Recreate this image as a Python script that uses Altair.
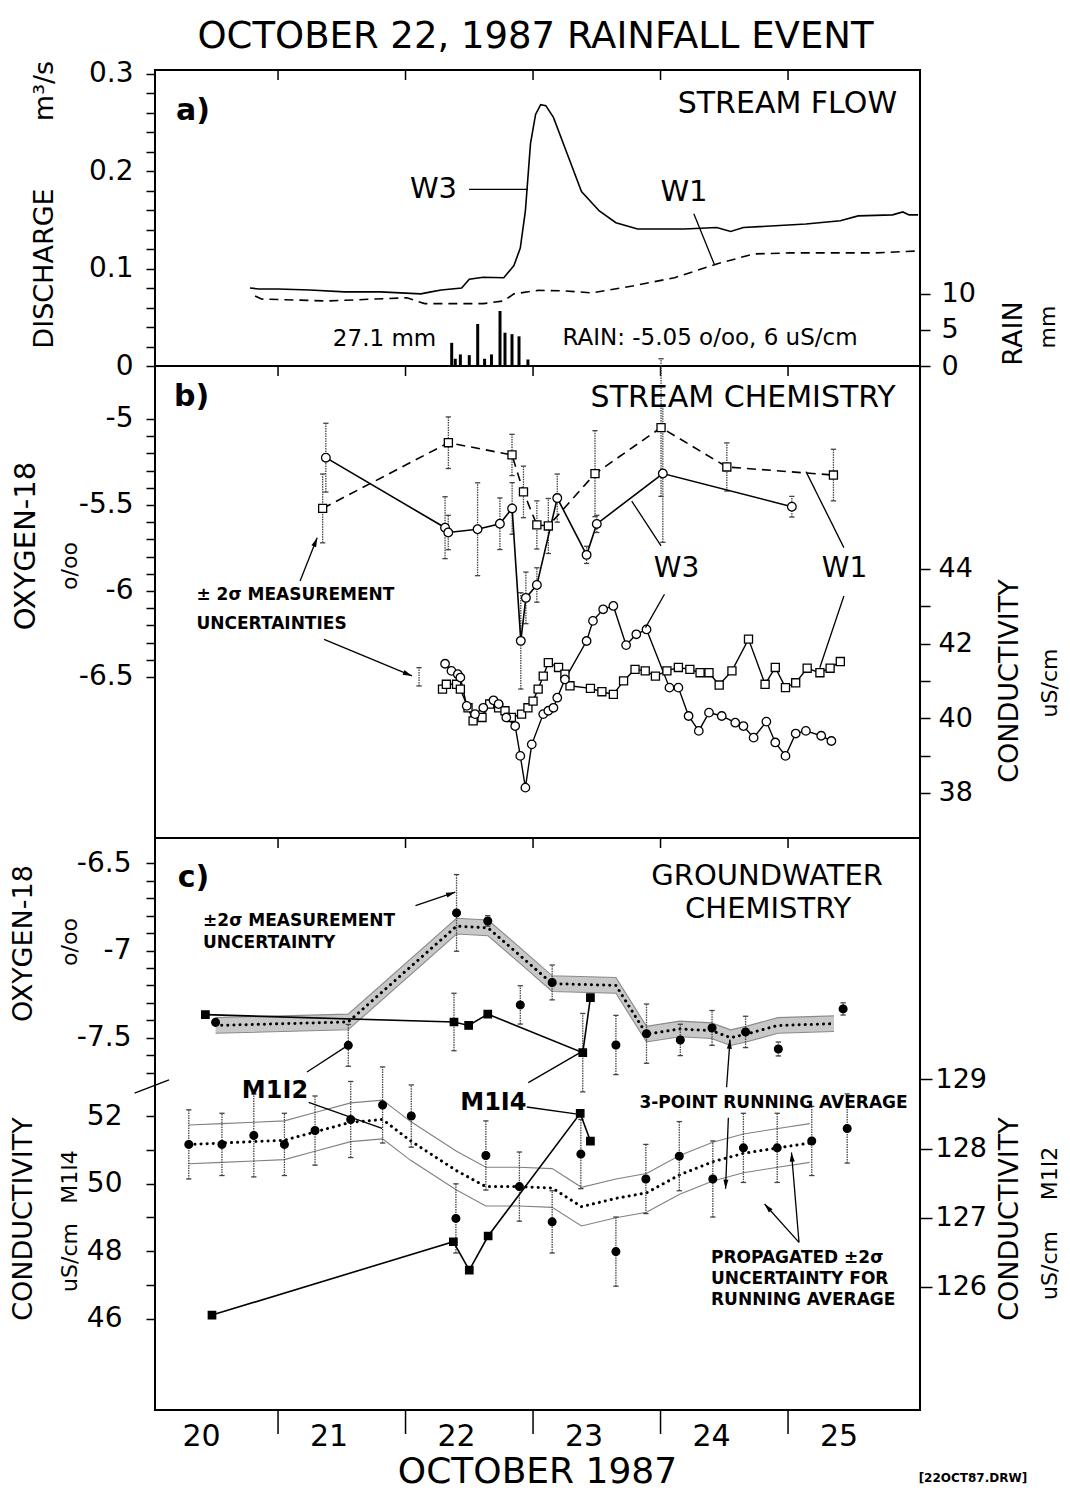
import math
import altair as alt
import pandas as pd

FONT = "DejaVu Sans"
W = 765
HA, HB, HC = 296, 472, 572
XDOM = [20.035, 26.035]
PX_DAY = W / (XDOM[1] - XDOM[0])

# ---------------- panel a : stream flow ----------------
w3_q_day = [20.78, 20.85, 21.0, 21.25, 21.52, 21.8, 22.12, 22.2, 22.28, 22.44, 22.5, 22.61, 22.77,
            22.85, 22.9, 22.94, 22.98, 23.02, 23.06, 23.1, 23.16, 23.27, 23.38, 23.52, 23.65, 23.82,
            24.19, 24.44, 24.55, 24.65, 25.14, 25.41, 25.55, 25.82, 25.9, 25.95, 26.02]
w3_q_val = [0.080, 0.079, 0.079, 0.078, 0.076, 0.076, 0.074, 0.076, 0.078, 0.080, 0.089, 0.091, 0.0905,
            0.103, 0.121, 0.159, 0.228, 0.258, 0.268, 0.267, 0.255, 0.217, 0.179, 0.159, 0.147, 0.1405,
            0.1405, 0.142, 0.138, 0.142, 0.1456, 0.149, 0.154, 0.155, 0.158, 0.155, 0.155]
w1_q_day = [20.82, 20.87, 21.39, 22.01, 22.15, 22.61, 22.77, 22.85, 23.04, 23.25, 23.46, 23.78,
            24.11, 24.44, 24.73, 25.01, 25.41, 25.68, 26.02]
w1_q_val = [0.0718, 0.0687, 0.0667, 0.070, 0.064, 0.064, 0.0667, 0.074, 0.0776, 0.077, 0.075, 0.082,
            0.0906, 0.1046, 0.1149, 0.116, 0.116, 0.116, 0.118]
rain_day = [22.362, 22.39, 22.43, 22.50, 22.566, 22.62, 22.674, 22.741, 22.78, 22.835, 22.89, 22.96]
rain_mm = [3.2, 1.0, 1.6, 1.5, 5.8, 1.0, 1.6, 7.6, 4.6, 4.4, 4.1, 0.9]
QDOM = [0, 0.3036]
RDOM = [0, 40.9]

# ---------------- panel b : stream chemistry ----------------
w3_o_day = [21.375, 22.31, 22.335, 22.565, 22.74, 22.836, 22.904, 22.944, 23.03, 23.19, 23.42, 23.50, 24.018, 25.03]
w3_o_val = [-5.225, -5.632, -5.66, -5.641, -5.609, -5.52, -6.29, -6.04, -5.965, -5.46, -5.79, -5.61, -5.317, -5.51]
w3_o_err = [0.2, 0.18, 0.1, 0.27, 0.15, 0.15, 0.28, 0.15, 0.1, 0.14, 0.05, 0.05, 0.4, 0.06]
w1_o_day = [21.35, 22.336, 22.835, 22.925, 23.03, 23.12, 23.486, 24.004, 24.52, 25.356]
w1_o_val = [-5.52, -5.138, -5.209, -5.424, -5.616, -5.622, -5.318, -5.05, -5.279, -5.326]
w1_o_err = [0.2, 0.15, 0.12, 0.15, 0.14, 0.16, 0.25, 0.4, 0.14, 0.15]
w3_c_day = [22.31, 22.36, 22.41, 22.43, 22.48, 22.545, 22.61, 22.69, 22.73, 22.79, 22.86, 22.90, 22.94, 22.99,
            23.08, 23.12, 23.16, 23.19, 23.25, 23.42, 23.47, 23.55, 23.63, 23.73, 23.81, 23.89, 24.07, 24.14,
            24.22, 24.30, 24.38, 24.48, 24.586, 24.65, 24.73, 24.83, 24.90, 24.98, 25.06, 25.14, 25.26, 25.34]
w3_c_val = [41.46, 41.27, 41.18, 41.09, 40.33, 40.11, 40.28, 40.48, 40.38, 40.02, 39.79, 38.99, 38.14, 39.30,
            40.11, 40.20, 40.28, 40.55, 41.04, 42.07, 42.61, 42.92, 43.01, 41.96, 42.25, 42.38, 40.82, 40.82,
            40.06, 39.66, 40.15, 40.06, 39.88, 39.79, 39.48, 39.91, 39.35, 38.99, 39.59, 39.66, 39.53, 39.39]
w1_c_day = [22.29, 22.32, 22.40, 22.43, 22.49, 22.53, 22.60, 22.66, 22.73, 22.78, 22.83, 22.91, 22.96, 23.00,
            23.04, 23.08, 23.12, 23.20, 23.25, 23.29, 23.45, 23.54, 23.63, 23.71, 23.80, 23.88, 23.96, 24.05,
            24.14, 24.23, 24.31, 24.38, 24.46, 24.56, 24.69, 24.82, 24.90, 24.98, 25.06, 25.15, 25.25, 25.33, 25.41]
w1_c_val = [40.78, 40.91, 40.91, 40.78, 40.28, 39.93, 40.02, 40.38, 40.28, 40.20, 40.02, 40.11, 40.28, 40.46,
            40.78, 41.13, 41.49, 41.36, 41.18, 40.87, 40.80, 40.71, 40.64, 41.00, 41.31, 41.27, 41.13, 41.27,
            41.36, 41.31, 41.22, 41.22, 40.89, 41.27, 42.12, 40.91, 41.36, 40.82, 40.95, 41.34, 41.22, 41.34, 41.52]
unc_day, unc_val, unc_err = [22.106], [41.11], [0.245]
OB_DOM = [-7.436, -4.692]
CB_DOM = [36.79, 49.44]

# ---------------- panel c : groundwater chemistry ----------------
m2_o_day = [20.51, 21.551, 22.40, 22.645, 22.90, 23.15, 23.65, 23.89, 24.155, 24.404, 24.667, 24.924, 25.432]
m2_o_val = [-7.412, -7.544, -6.784, -6.83, -7.312, -7.183, -7.542, -7.477, -7.513, -7.444, -7.467, -7.565, -7.335]
m2_o_err = [0.0, 0.12, 0.22, 0.03, 0.11, 0.1, 0.17, 0.17, 0.09, 0.1, 0.09, 0.04, 0.035]
m4_o_day = [20.43, 22.38, 22.495, 22.645, 23.39, 23.45]
m4_o_val = [-7.368, -7.41, -7.43, -7.365, -7.586, -7.27]
m4_o_err = [0.0, 0.165, 0.0, 0.0, 0.225, 0.0]
m4_c_day = [20.482, 22.375, 22.50, 22.648, 23.37, 23.45]
m4_c_val = [46.11, 48.28, 47.44, 48.45, 52.08, 51.26]
m2_c_day = [20.30, 20.56, 20.81, 21.05, 21.29, 21.57, 21.82, 22.045, 22.395, 22.63, 22.893, 23.15, 23.375,
            23.65, 23.885, 24.147, 24.41, 24.65, 24.915, 25.186, 25.464]
m2_c_val = [128.06, 128.06, 128.19, 128.06, 128.26, 128.42, 128.63, 128.47, 126.99, 127.90, 127.45, 126.94,
            127.92, 126.51, 127.56, 127.89, 127.56, 128.01, 128.01, 128.11, 128.29]
m2_c_err = [0.5, 0.45, 0.6, 0.45, 0.5, 0.55, 0.55, 0.45, 0.5, 0.5, 0.5, 0.45, 0.5, 0.5, 0.5, 0.5, 0.55,
            0.5, 0.5, 0.5, 0.5]
oavg_day = [20.51, 21.55, 22.40, 22.647, 22.90, 23.15, 23.65, 23.89, 24.15, 24.40, 24.55, 24.67, 24.92, 25.36]
oavg_val = [-7.43, -7.41, -6.86, -6.87, -7.03, -7.19, -7.20, -7.48, -7.45, -7.46, -7.50, -7.48, -7.43, -7.42]
oavg_unc = 0.045
cavg_day = [20.30, 20.56, 20.81, 21.05, 21.29, 21.57, 21.82, 22.04, 22.40, 22.63, 22.89, 23.15, 23.38,
            23.65, 23.89, 24.15, 24.41, 24.65, 24.92, 25.17]
cavg_val = [128.06, 128.08, 128.10, 128.12, 128.24, 128.38, 128.42, 128.11, 127.68, 127.45, 127.45, 127.43,
            127.16, 127.28, 127.36, 127.62, 127.81, 127.93, 128.01, 128.08]
cavg_unc = 0.28
OC_DOM = [-9.637, -6.354]
C4_DOM = [43.30, 60.23]
C2_DOM = [124.22, 132.49]

tick_days = [21, 22, 23, 24, 25]
label_days = [20.4, 21.4, 22.4, 23.4, 24.4, 25.4]
label_text = ["20", "21", "22", "23", "24", "25"]


# ---------------- helpers ----------------
def X(axis=None):
    return alt.X("d:Q", scale=alt.Scale(domain=XDOM, nice=False, zero=False), axis=axis)


def Y(field, dom, axis=None):
    return alt.Y(f"{field}:Q", scale=alt.Scale(domain=dom, nice=False, zero=False), axis=axis)


def yaxis(orient, values, expr, size, tick, pad):
    return alt.Axis(orient=orient, values=values, labelExpr=expr, labelFontSize=size, tickSize=tick,
                    labelPadding=pad, grid=False, domain=False, ticks=True, tickColor="black",
                    tickWidth=1.5, labelFont=FONT, labelColor="black", labelOverlap=False, title=None)


def line(days, vals, dom, axis=None, width=1.6, dash=None, color="black", cap="butt"):
    df = pd.DataFrame({"d": days, "v": vals})
    props = dict(color=color, strokeWidth=width, strokeCap=cap)
    if dash is not None:
        props["strokeDash"] = dash
    return alt.Chart(df).mark_line(**props).encode(x=X(), y=Y("v", dom, axis))


def pts(days, vals, dom, shape, size, fill, axis=None, sw=1.3):
    df = pd.DataFrame({"d": days, "v": vals})
    return alt.Chart(df).mark_point(shape=shape, size=size, filled=True, fill=fill, stroke="black",
                                    strokeWidth=sw, opacity=1).encode(x=X(), y=Y("v", dom, axis))


def errbars(days, vals, errs, dom, cap=28):
    rows = [(d, v - e, v + e) for d, v, e in zip(days, vals, errs) if e > 0]
    df = pd.DataFrame(rows, columns=["d", "lo", "hi"])
    bar = alt.Chart(df).mark_rule(color="#444", strokeWidth=1.3, strokeDash=[1.5, 1]).encode(
        x=X(), y=Y("lo", dom), y2=alt.Y2("hi"))
    cdf = pd.DataFrame({"d": list(df.d) * 2, "v": list(df.lo) + list(df.hi)})
    caps = alt.Chart(cdf).mark_point(shape="M-1,0L1,0", size=cap, filled=False, color="#444",
                                     strokeWidth=1.3, opacity=1).encode(x=X(), y=Y("v", dom))
    return [bar, caps]


def band(days, vals, unc, dom, fill=None, edge="#888"):
    df = pd.DataFrame({"d": days, "lo": [v - unc for v in vals], "hi": [v + unc for v in vals]})
    out = []
    if fill:
        out.append(alt.Chart(df).mark_area(color=fill, opacity=1).encode(x=X(), y=Y("lo", dom), y2=alt.Y2("hi")))
    out.append(alt.Chart(df).mark_line(color=edge, strokeWidth=1.1).encode(x=X(), y=Y("lo", dom)))
    out.append(alt.Chart(df).mark_line(color=edge, strokeWidth=1.1).encode(x=X(), y=Y("hi", dom)))
    out.append(line(days, vals, dom, width=3, dash=[0.1, 6], cap="round"))
    return out


def txt(items, dom, size, weight="normal", align="left"):
    df = pd.DataFrame(items, columns=["t", "d", "v"])
    return alt.Chart(df).mark_text(font=FONT, fontSize=size, fontWeight=weight, align=align,
                                   baseline="middle", color="black").encode(x=X(), y=Y("v", dom), text="t:N")


def ptxt(t, x, y, size, angle=270):
    return alt.Chart(pd.DataFrame({"t": [t]})).mark_text(font=FONT, fontSize=size, angle=angle, align="center",
                                                         baseline="middle", color="black").encode(
        x=alt.value(x), y=alt.value(y), text="t:N")


def segs(items, dom, width=1.3):
    df = pd.DataFrame(items, columns=["d", "v", "d2", "v2"])
    return alt.Chart(df).mark_rule(color="black", strokeWidth=width).encode(
        x=X(), y=Y("v", dom), x2=alt.X2("d2"), y2=alt.Y2("v2"))


def arrows(items, dom, pxu, size=70):
    rows = []
    for d1, v1, d2, v2 in items:
        ang = math.degrees(math.atan2((d2 - d1) * PX_DAY, (v2 - v1) * pxu)) % 360
        rows.append((d2, v2, ang))
    df = pd.DataFrame(rows, columns=["d", "v", "a"])
    heads = alt.Chart(df).mark_point(shape="M0,0L-0.6,2.2L0.6,2.2Z", size=size, filled=True, color="black",
                                     opacity=1).encode(x=X(), y=Y("v", dom), angle=alt.Angle("a:Q", scale=None))
    return [segs(items, dom), heads]


def top_ticks():
    return alt.Chart(pd.DataFrame({"d": tick_days})).mark_rule(color="black", strokeWidth=1.5).encode(
        x=X(), y=alt.value(0), y2=alt.value(10))


# ---------------- panel a ----------------
q_vals = [round(0.02 * i, 2) for i in range(16)]
q_expr = "abs(datum.value*10 - round(datum.value*10)) < 0.001 ? toString(datum.value) : ''"
rain_df = pd.DataFrame({"d": rain_day, "mm": rain_mm, "z": [0] * len(rain_day)})
rain = alt.Chart(rain_df).mark_rule(color="black", strokeWidth=3).encode(
    x=X(), y=Y("z", RDOM, yaxis("right", [0, 5, 10], "toString(datum.value)", 27, 10, 11)), y2=alt.Y2("mm"))

panel_a = alt.layer(
    top_ticks(),
    line(w1_q_day, w1_q_val, QDOM, dash=[9, 6]),
    line(w3_q_day, w3_q_val, QDOM, axis=yaxis("left", q_vals, q_expr, 28, 9, 13)),
    rain,
    segs([(22.498, 0.1812, 22.958, 0.1812), (24.261, 0.1562, 24.424, 0.1036)], QDOM),
    txt([("a)", 20.2, 0.2615)], QDOM, 30, "bold"),
    txt([("STREAM FLOW", 25.855, 0.2687)], QDOM, 30, align="right"),
    txt([("W3", 22.404, 0.1815)], QDOM, 29, align="right"),
    txt([("W1", 24.184, 0.1785)], QDOM, 29, align="center"),
    txt([("27.1 mm", 21.43, 0.0274)], QDOM, 23),
    txt([("RAIN: -5.05 o/oo, 6 uS/cm", 24.388, 0.029)], QDOM, 23, align="center"),
    ptxt("DISCHARGE", -110, 198.5, 27),
    ptxt("m³/s", -110, 21, 27),
    ptxt("RAIN", 858.6, 263.5, 27),
    ptxt("mm", 893, 257, 22),
).resolve_scale(y="independent").properties(width=W, height=HA)

# ---------------- panel b ----------------
ob_vals = [round(-5 - 0.1 * i, 1) for i in range(16)]
half_expr = "abs(datum.value*2 - round(datum.value*2)) < 0.001 ? toString(datum.value) : ''"
even_expr = "datum.value % 2 == 0 ? toString(datum.value) : ''"

panel_b = alt.layer(
    top_ticks(),
    *errbars(w3_o_day, w3_o_val, w3_o_err, OB_DOM),
    *errbars(w1_o_day, w1_o_val, w1_o_err, OB_DOM),
    line(w1_o_day, w1_o_val, OB_DOM, axis=yaxis("left", ob_vals, half_expr, 28, 9, 13), dash=[9, 6]),
    line(w3_o_day, w3_o_val, OB_DOM),
    line(w3_c_day, w3_c_val, CB_DOM, axis=yaxis("right", list(range(38, 45)), even_expr, 27, 10, 8), width=1.4),
    line(w1_c_day, w1_c_val, CB_DOM, width=1.4),
    pts(w1_o_day, w1_o_val, OB_DOM, "square", 65, "white"),
    pts(w3_o_day, w3_o_val, OB_DOM, "circle", 75, "white"),
    pts(w1_c_day, w1_c_val, CB_DOM, "square", 65, "white"),
    pts(w3_c_day, w3_c_val, CB_DOM, "circle", 72, "white"),
    *errbars(unc_day, unc_val, unc_err, CB_DOM),
    segs([(23.774, -5.477, 24.004, -5.738), (24.031, -6.019, 23.882, -6.213),
          (25.141, -5.306, 25.438, -5.748), (25.438, -6.029, 25.249, -6.446)], OB_DOM),
    *arrows([(21.173, -5.942, 21.307, -5.690), (21.361, -6.281, 22.051, -6.494)], OB_DOM, 172),
    txt([("b)", 20.184, -4.872)], OB_DOM, 30, "bold"),
    txt([("STREAM CHEMISTRY", 25.843, -4.88)], OB_DOM, 30, align="right"),
    txt([("± 2σ MEASUREMENT", 20.36, -6.023), ("UNCERTAINTIES", 20.36, -6.194)], OB_DOM, 17, "bold"),
    txt([("W3", 24.125, -5.875), ("W1", 25.443, -5.875)], OB_DOM, 28, align="center"),
    ptxt("OXYGEN-18", -129, 180, 29),
    ptxt("o/oo", -85, 200, 22),
    ptxt("CONDUCTIVITY", 855, 315, 27),
    ptxt("uS/cm", 895, 317, 22),
).resolve_scale(y="independent").properties(width=W, height=HB)

# ---------------- panel c ----------------
oc_vals = [round(-6.5 - 0.1 * i, 1) for i in range(13)]
bottom_ticks = alt.Chart(pd.DataFrame({"d": tick_days})).mark_rule(color="black", strokeWidth=1.5).encode(
    x=X(), y=alt.value(HC), y2=alt.value(HC + 24))
bottom_labels = alt.Chart(pd.DataFrame({"d": label_days, "t": label_text})).mark_text(
    font=FONT, fontSize=30, baseline="middle", align="center", color="black").encode(
    x=X(), y=alt.value(HC + 27), text="t:N")

panel_c = alt.layer(
    top_ticks(),
    bottom_ticks,
    bottom_labels,
    *band(oavg_day, oavg_val, oavg_unc, OC_DOM, fill="#c8c8c8", edge="#8a8a8a"),
    *band(cavg_day, cavg_val, cavg_unc, C2_DOM, edge="#808080"),
    *errbars(m2_o_day, m2_o_val, m2_o_err, OC_DOM),
    *errbars(m4_o_day, m4_o_val, m4_o_err, OC_DOM),
    *errbars(m2_c_day, m2_c_val, m2_c_err, C2_DOM),
    line(m4_o_day, m4_o_val, OC_DOM, axis=yaxis("left", oc_vals, half_expr, 28, 9, 15), width=1.6),
    line(m4_c_day, m4_c_val, C4_DOM, axis=yaxis("left", list(range(46, 53)), even_expr, 28, 9, 24), width=1.6),
    pts(m4_o_day, m4_o_val, OC_DOM, "square", 55, "black"),
    pts(m4_c_day, m4_c_val, C4_DOM, "square", 55, "black"),
    pts(m2_o_day, m2_o_val, OC_DOM, "circle", 60, "black"),
    pts(m2_c_day, m2_c_val, C2_DOM, "circle", 60, "black",
        axis=yaxis("right", [126, 127, 128, 129], "toString(datum.value)", 27, 12, 3)),
    segs([(21.227, -7.697, 21.551, -7.543), (21.24, -7.871, 21.816, -8.02),
          (22.963, -7.758, 23.369, -7.586), (22.951, -7.898, 23.363, -7.94),
          (19.875, -7.818, 20.145, -7.742)], OC_DOM),
    *arrows([(22.078, -6.742, 22.39, -6.665), (24.518, -7.785, 24.545, -7.511),
             (24.532, -7.96, 24.51, -8.367), (25.086, -8.675, 25.027, -8.159),
             (25.086, -8.675, 24.816, -8.455)], OC_DOM, 174.2),
    txt([("c)", 20.213, -6.583)], OC_DOM, 30, "bold"),
    txt([("GROUNDWATER", 24.836, -6.572), ("CHEMISTRY", 24.844, -6.76)], OC_DOM, 29, align="center"),
    txt([("±2σ MEASUREMENT", 20.412, -6.83), ("UNCERTAINTY", 20.412, -6.955)], OC_DOM, 17, "bold"),
    txt([("M1I2", 20.976, -7.806), ("M1I4", 22.689, -7.873)], OC_DOM, 24, "bold", align="center"),
    txt([("3-POINT RUNNING AVERAGE", 25.938, -7.877)], OC_DOM, 17, "bold", align="right"),
    txt([("PROPAGATED ±2σ", 24.396, -8.763), ("UNCERTAINTY FOR", 24.396, -8.884),
         ("RUNNING AVERAGE", 24.396, -9.005)], OC_DOM, 17, "bold"),
    txt([("[22OCT87.DRW]", 26.45, -10.03)], OC_DOM, 12, "bold", align="center"),
    ptxt("OCTOBER 1987", W / 2, HC + 62, 36, angle=0),
    ptxt("OXYGEN-18", -131, 105.5, 27),
    ptxt("o/oo", -85, 104, 22),
    ptxt("CONDUCTIVITY", -131, 381, 27),
    ptxt("M1I4", -85, 339, 22),
    ptxt("uS/cm", -85, 419.5, 22),
    ptxt("CONDUCTIVITY", 855, 381, 27),
    ptxt("M1I2", 895, 335.5, 22),
    ptxt("uS/cm", 895, 427.5, 22),
).resolve_scale(y="independent").properties(width=W, height=HC)

chart = alt.vconcat(panel_a, panel_b, panel_c, spacing=0, bounds="flush").properties(
    title=alt.TitleParams("OCTOBER 22, 1987 RAINFALL EVENT", fontSize=37, font=FONT, fontWeight="normal",
                          anchor="middle", offset=3, color="black"),
    padding={"left": 1, "right": 0, "top": 9, "bottom": 0},
    background="white",
).configure_view(stroke="black", strokeWidth=2)

chart.save("out.html", embed_options={"renderer": "svg", "actions": False})
